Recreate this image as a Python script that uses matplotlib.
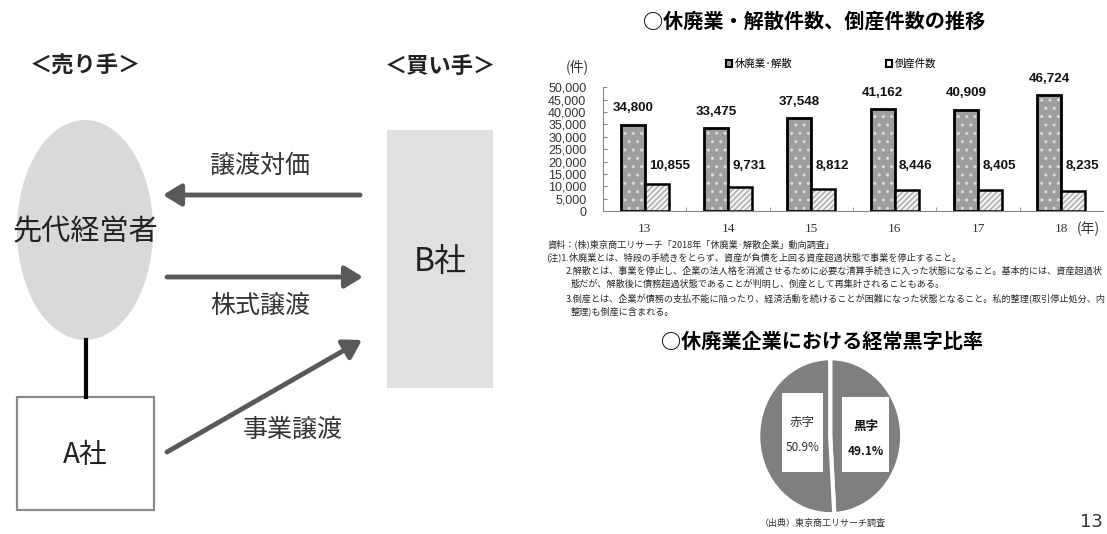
import matplotlib
matplotlib.use("Agg")
import matplotlib.pyplot as plt
from matplotlib.patches import Ellipse, Rectangle, Patch
import numpy as np

plt.rcParams["font.family"] = ["Noto Sans CJK JP", "DejaVu Sans"]

# bar chart data (件)
years = ["13", "14", "15", "16", "17", "18"]
closures = [34800, 33475, 37548, 41162, 40909, 46724]
bankruptcies = [10855, 9731, 8812, 8446, 8405, 8235]
series_names = ["休廃業·解散", "倒産件数"]
y_ticks = [0, 5000, 10000, 15000, 20000, 25000, 30000, 35000, 40000, 45000, 50000]

# pie data (%)
pie_labels = ["黒字", "赤字"]
pie_values = [49.1, 50.9]

notes = [
    "資料：(株)東京商工リサーチ「2018年「休廃業·解散企業」動向調査」",
    "(注)1.休廃業とは、特段の手続きをとらず、資産が負債を上回る資産超過状態で事業を停止すること。",
    "2.解散とは、事業を停止し、企業の法人格を消滅させるために必要な清算手続きに入った状態になること。基本的には、資産超過状",
    "態だが、解散後に債務超過状態であることが判明し、倒産として再集計されることもある。",
    "3.倒産とは、企業が債務の支払不能に陥ったり、経済活動を続けることが困難になった状態となること。私的整理(取引停止処分、内",
    "整理)も倒産に含まれる。",
]
note_x = [548, 546, 566, 571, 566, 571]

W, H = 1107, 534
fig = plt.figure(figsize=(W / 100, H / 100), dpi=100)

# full-figure layer in pixel coordinates for the diagram and free text
ax0 = fig.add_axes([0, 0, 1, 1])
ax0.set_xlim(0, W)
ax0.set_ylim(H, 0)
ax0.axis("off")

dark = "#222222"
arrow_c = "#595959"

ax0.text(85, 66, "＜売り手＞", fontsize=16, fontweight="bold", ha="center", va="center", color=dark)
ax0.text(440, 66, "＜買い手＞", fontsize=16, fontweight="bold", ha="center", va="center", color=dark)

ax0.add_patch(Ellipse((85, 230), 136, 220, facecolor="#d9d9d9", edgecolor="none"))
ax0.text(85, 232, "先代経営者", fontsize=21, ha="center", va="center", color=dark)
ax0.plot([86, 86], [340, 397], color="black", lw=3)
ax0.add_patch(Rectangle((17, 397), 137, 113, facecolor="white", edgecolor="#8a8a8a", lw=1.6))
ax0.text(85, 455, "A社", fontsize=20, ha="center", va="center", color=dark)

ax0.add_patch(Rectangle((387, 130), 106, 258, facecolor="#e0e0e0", edgecolor="none"))
ax0.text(440, 262, "B社", fontsize=23, ha="center", va="center", color=dark)

arrow_kw = dict(arrowstyle="-|>,head_length=0.9,head_width=0.55", color=arrow_c,
                lw=3.5, mutation_scale=12, shrinkA=0, shrinkB=0)
ax0.annotate("", xy=(163, 195), xytext=(360, 195), arrowprops=arrow_kw)
ax0.annotate("", xy=(363, 277), xytext=(167, 277), arrowprops=arrow_kw)
ax0.annotate("", xy=(362, 340), xytext=(167, 452), arrowprops=arrow_kw)
ax0.text(260, 166, "譲渡対価", fontsize=18, ha="center", va="center", color="#333333")
ax0.text(260, 306, "株式譲渡", fontsize=18, ha="center", va="center", color="#333333")
ax0.text(293, 430, "事業譲渡", fontsize=18, ha="center", va="center", color="#333333")

# titles and notes
ax0.text(814, 21, "○休廃業・解散件数、倒産件数の推移", fontsize=14.5, fontweight="bold",
         ha="center", va="center", color="black")
ax0.text(822, 341, "○休廃業企業における経常黒字比率", fontsize=14.5, fontweight="bold",
         ha="center", va="center", color="black")
for i, (line, x) in enumerate(zip(notes, note_x)):
    ax0.text(x, 244 + i * 13.5, line, fontsize=6.6, ha="left", va="center", color="#2a2a2a")
ax0.text(577, 67, "(件)", fontsize=10, ha="center", va="center", color="#333333")
ax0.text(1088, 229, "(年)", fontsize=10, ha="center", va="center", color="#333333")
ax0.text(823, 523, "（出典）東京商工リサーチ調査", fontsize=6.5, ha="center", va="center", color="#333333")
ax0.text(1091, 522, "13", fontsize=13, family="DejaVu Sans", ha="center", va="center", color="#333333")

# bar chart
ax = fig.add_axes([603 / W, 1 - 211 / H, 500 / W, 123.6 / H])
ax.patch.set_alpha(0)
x = np.arange(len(years))
bw = 0.288
ax.bar(x - bw / 2, closures, bw, color="#9e9e9e", hatch="..", edgecolor="#dcdcdc", lw=0)
ax.bar(x - bw / 2, closures, bw, fill=False, edgecolor="black", lw=2)
ax.bar(x + bw / 2, bankruptcies, bw, color="#f2f2f2", hatch="//////", edgecolor="#a8a8a8", lw=0)
ax.bar(x + bw / 2, bankruptcies, bw, fill=False, edgecolor="black", lw=1.8)

for i, v in enumerate(closures):
    ax.annotate(f"{v:,}", (x[i] - bw / 2, v), xytext=(0, 12), textcoords="offset points",
                ha="center", va="center", fontsize=9.6, fontweight="bold",
                family="Liberation Sans", color="#111111")
for i, v in enumerate(bankruptcies):
    ax.text(x[i] + 0.05, 18200, f"{v:,}", ha="left", va="center", fontsize=9.6,
            fontweight="bold", family="Liberation Sans", color="#111111")

ax.set_xlim(-0.5, len(years) - 0.5)
ax.set_ylim(0, 50000)
ax.set_xticks(x)
ax.set_xticklabels(years, family="Liberation Serif", fontsize=9.5, color="#333333")
ax.set_xticks(np.arange(0.5, len(years) - 1, 1), minor=True)
ax.tick_params(axis="x", which="major", length=0, pad=9)
ax.tick_params(axis="x", which="minor", direction="in", length=3, color="#888888")
ax.set_yticks(y_ticks)
ax.set_yticklabels([f"{t:,}" for t in y_ticks], family="Liberation Sans", fontsize=9, color="#333333")
ax.tick_params(axis="y", direction="in", length=3, pad=12, color="#888888")
for s in ["top", "right"]:
    ax.spines[s].set_visible(False)
ax.spines["left"].set_color("#888888")
ax.spines["bottom"].set_color("#888888")

handles = [Patch(facecolor="#9e9e9e", edgecolor="black", lw=1.5),
           Patch(facecolor="white", edgecolor="black", lw=1.5)]
fig.legend(handles, series_names, loc="center", bbox_to_anchor=(831 / W, 1 - 64 / H),
           ncol=2, frameon=False, fontsize=7.5, handlelength=0.6, handleheight=0.6,
           handletextpad=0.2, columnspacing=9)

# pie chart
pax = fig.add_axes([751 / W, 1 - 522 / H, 158.4 / W, 171.6 / H])
pax.pie(pie_values, startangle=90, counterclock=False, colors=["#7f7f7f", "#7f7f7f"],
        wedgeprops=dict(edgecolor="white", lw=3))
pax.set_aspect("auto")
pax.set_xlim(-1.1, 1.1)
pax.set_ylim(-1.1, 1.1)
pax.axis("off")
pax.add_patch(Rectangle((-0.67, -0.46), 0.57, 1.01, facecolor="white", edgecolor="none"))
pax.add_patch(Rectangle((0.17, -0.46), 0.64, 0.96, facecolor="white", edgecolor="none"))
pax.text(-0.39, 0.18, pie_labels[1], fontsize=9, ha="center", va="center", color="#333333")
pax.text(-0.39, -0.15, f"{pie_values[1]}%", fontsize=8.5, ha="center", va="center", color="#333333")
pax.text(0.49, 0.12, pie_labels[0], fontsize=9, fontweight="bold", ha="center", va="center", color="#111111")
pax.text(0.49, -0.2, f"{pie_values[0]}%", fontsize=8.5, fontweight="bold", ha="center", va="center", color="#111111")

fig.savefig("out.png", dpi=100)
